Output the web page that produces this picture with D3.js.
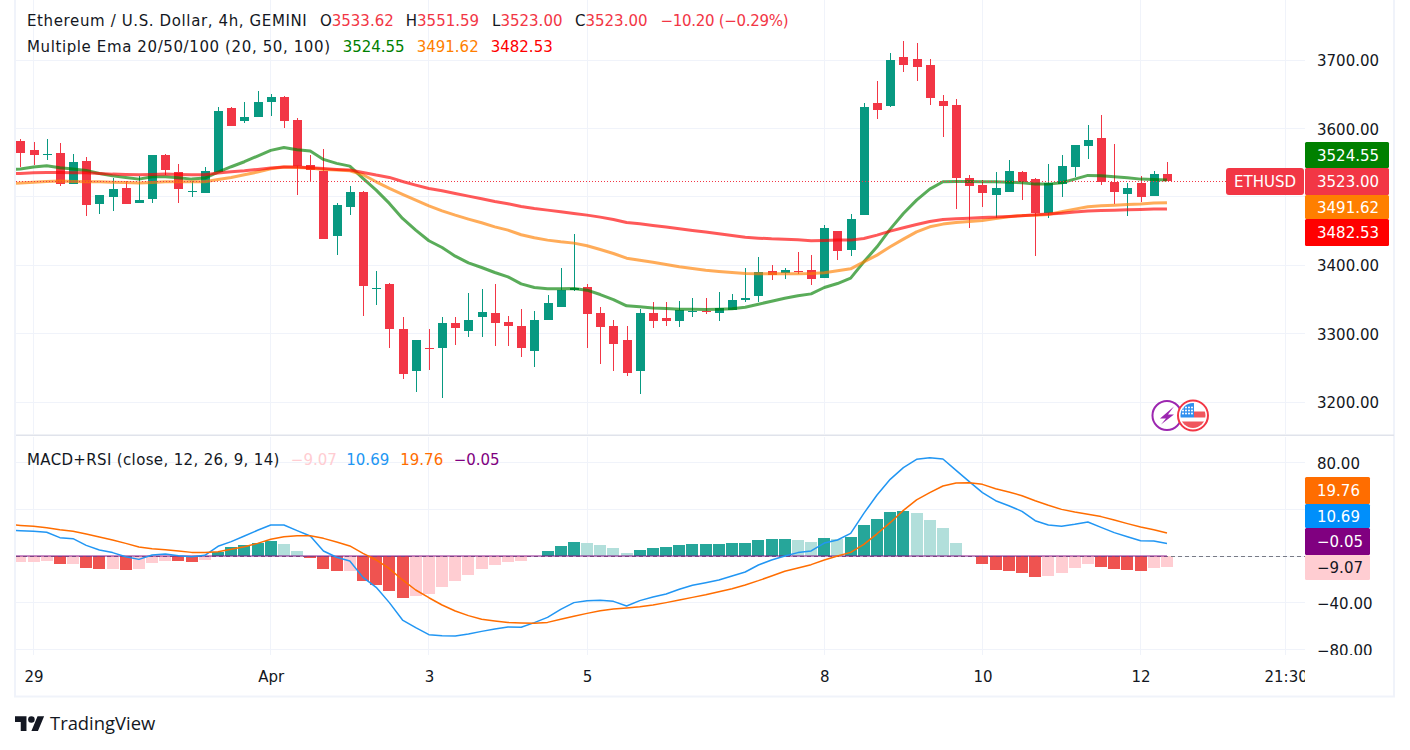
<!DOCTYPE html>
<html>
<head>
<meta charset="utf-8">
<script src="https://cdn.jsdelivr.net/npm/d3@7"></script>
<style>
  html, body { margin: 0; padding: 0; background: #fff; }
  text { font-family: "DejaVu Sans", sans-serif; }
</style>
</head>
<body>
<svg id="chartsvg" width="1410" height="750"></svg>
<script>
// first candle sits one bar before the "29" tick
const firstBar = -1;
const opens = [3581.6,3568.4,3562,3564,3518.7,3552.3,3489.5,3499.7,3513,3491,3496.8,3561,3536.3,3507.5,3505.6,3536.3,3629.8,3610.8,3616.7,3638.6,3645.9,3612.3,3546.5,3537.7,3442.7,3485.1,3507,3366,3372.5,3306.8,3245.4,3279,3279,3315.5,3303.8,3324.3,3330.1,3317,3311.1,3274.6,3320,3338.9,3363.8,3368.1,3330.1,3311.1,3290.7,3245.3,3330.1,3322.8,3318.4,3331.6,3333.1,3330.1,3334.5,3349.1,3355,3391.5,3388.6,3391.5,3393,3381.3,3450,3422.2,3473.4,3637.1,3632.8,3704.4,3701.5,3692.7,3640.1,3634.2,3527.5,3517.3,3502.6,3507,3536.3,3526,3476.3,3518.7,3543.6,3574.3,3586,3521.6,3504.1,3520.2,3501.2,3533.62];
const highs = [3584,3580.1,3584,3578.2,3562.6,3558.2,3502.6,3527.5,3523,3530.4,3561.1,3562.6,3548,3523,3543.6,3631.3,3631.3,3638.6,3654.7,3650.3,3647.4,3615.2,3561.1,3570,3490.5,3515.8,3508.5,3391.5,3374,3324.3,3290.7,3306.8,3324.3,3324.3,3359.4,3365.2,3372.5,3325.8,3336,3333.1,3356.5,3395.9,3445.6,3372.5,3338.9,3320,3311.1,3336,3346.2,3346.2,3347.7,3352.1,3352.1,3360.8,3357.9,3395.9,3412,3400.3,3395.9,3419.3,3415,3458.8,3450,3474.9,3637.1,3669.3,3710.2,3727.8,3724.9,3701.5,3648.8,3643,3531.9,3524.6,3536.3,3553.8,3537.7,3527.5,3548,3561.1,3575.7,3605,3619.6,3577.2,3520.2,3530.4,3537.7,3551.59];
const lows = [3543,3546.5,3553.8,3516.3,3518.7,3472,3475,3479.3,3489.5,3491,3491,3532,3491,3500.2,3505.6,3536.3,3603.5,3608,3616.7,3618.1,3600.6,3502.6,3521.6,3438.3,3415,3473.4,3325.8,3341.8,3279,3233.7,3214.7,3246.8,3206,3283.3,3295,3295.1,3281.9,3281.9,3265.8,3251.2,3320,3338.9,3362.3,3279,3255.6,3245.3,3238,3211.7,3308.2,3311.1,3309.7,3324.3,3328.7,3318.4,3334.5,3346.2,3346.2,3378.4,3379.8,3387.2,3371.1,3381.3,3407.6,3413.5,3473.4,3613.7,3631.3,3682.5,3669.3,3634.2,3587.4,3482.2,3454.4,3485.1,3469,3507,3495.3,3413.5,3469,3499.7,3529,3555.3,3517.3,3489.5,3472,3492.4,3501.2,3523];
const closes = [3564.5,3561.1,3562.5,3518.7,3550.9,3488,3502.6,3511.4,3489.5,3495.3,3561.1,3539.2,3511.4,3508,3537.7,3625.4,3603.5,3616.7,3638.6,3645.9,3610.8,3545,3539.2,3438.3,3488,3507,3369.6,3366.5,3306.8,3241,3290.7,3278.5,3315.5,3308.2,3320,3331.6,3315.5,3311.1,3279,3320,3344.8,3363.8,3366.7,3328.7,3309.7,3284.8,3242.4,3330.1,3318.4,3318.4,3334.5,3333.1,3331.6,3337.4,3349.1,3352.1,3390.1,3385.7,3393,3390.1,3379.8,3454.4,3420.8,3467.6,3631.3,3626.9,3700,3692.7,3689.8,3644.4,3632.8,3527.5,3515.8,3505.6,3512.9,3537.7,3521.6,3476.3,3520.2,3545,3575.7,3583,3521.6,3507,3512.9,3499.7,3533.3,3523];

// indicator lines start one bar earlier so they run off the left edge
const firstLineBar = -2;
const ema20 = [3539.5,3540.7,3543.6,3545.5,3542.6,3540.7,3538.7,3534.3,3530.9,3528.5,3526,3529.4,3529.4,3528,3526,3527.5,3536.3,3544.1,3551.4,3559.7,3568,3572.3,3569,3567,3554.8,3549,3545,3527,3510,3490.5,3468.5,3451.5,3436,3426.1,3413.5,3403.7,3396.9,3389.6,3383.3,3373,3367.7,3365.7,3365.7,3366.2,3363.8,3357.4,3350.1,3340.9,3339.4,3337.9,3337,3336,3336,3335.5,3336,3336.5,3338.9,3343.3,3347.7,3352.1,3355.5,3358.4,3367.7,3373.5,3381.3,3405.2,3427.1,3453,3475.8,3495.3,3511.4,3522.1,3522.6,3522.6,3522.1,3522.1,3521.6,3520.7,3518.7,3518.7,3520.7,3526,3531.4,3530.9,3529.4,3528,3526,3525.5,3524.55];
const ema50 = [3519.5,3520.2,3521.6,3522.6,3523.1,3522.6,3522.1,3522.1,3521.6,3521.2,3520.2,3521.2,3522.1,3522.1,3522.1,3522.1,3525.5,3528.5,3532.4,3536.3,3541.1,3543.6,3543.1,3542.1,3540.2,3539.2,3538.2,3532.4,3522.1,3512.4,3503.6,3495.3,3487,3479.7,3473.4,3467.6,3462.2,3456.3,3451.5,3444.7,3440.3,3436.9,3434.4,3432.5,3428.6,3423.2,3417.4,3410.5,3407.6,3404.7,3401.3,3397.9,3395.4,3393,3391.1,3389.6,3388.1,3387.6,3387.6,3387.6,3387.6,3388.1,3389.1,3392,3395,3405.2,3415,3427.1,3438.3,3449,3456.3,3460.3,3462.7,3464.1,3465.6,3468.5,3471,3472.9,3473.4,3474.4,3478.3,3482.2,3485.6,3487,3488,3489,3489.5,3491,3491.62];
const ema100 = [3534,3534.3,3535.3,3535.8,3535.8,3535.3,3535.3,3534.3,3533.3,3532.9,3532.4,3532.9,3533.3,3532.9,3532.4,3532.4,3534.8,3536.8,3538.2,3540.2,3542.1,3543.6,3543.6,3542.6,3541.6,3540.2,3539.2,3535.8,3531.9,3528.5,3522.6,3517.3,3512.4,3509,3505.1,3501.2,3497.3,3493.4,3490,3486.1,3483.1,3480.7,3478.3,3475.8,3473.4,3470.5,3467.1,3462.7,3460.7,3458.3,3455.9,3453.4,3451,3448.6,3446.1,3443.7,3441.2,3439.8,3438.8,3438.3,3437.3,3435.9,3436.4,3436.9,3436.9,3439.3,3444.2,3450,3454.9,3459.8,3464.1,3467.1,3468,3469,3470,3470.5,3471.5,3472.4,3473.9,3474.9,3476.3,3477.8,3479.3,3480.2,3480.7,3481.2,3481.7,3482.2,3482.53];

const histogram = [-5.1,-5.1,-4.3,-6.8,-6.8,-10.3,-11.1,-11.1,-12,-11.1,-6,-4.3,-4.6,-5.1,-3.4,3.4,7.7,9.4,11.1,12.8,10.3,4.3,-1.7,-11.1,-12.8,-12.8,-21.4,-24.8,-29.9,-35.9,-34.2,-32.5,-26.5,-21.4,-16.3,-11.1,-7.7,-5.1,-4.3,0,4.3,8.6,12,11.1,9.4,6.8,2.6,5.1,6.8,7.7,9.4,10.3,10.3,10.3,11.1,11.1,13.7,14.5,14.5,13.7,12,15.4,14.5,16.3,26.5,31.7,37.6,38.5,36.8,30.8,24,11.1,0,-6.8,-12,-12.8,-14.5,-18,-17.1,-14.5,-10.3,-6.8,-9.4,-11.1,-12,-12.8,-10.3,-9.07];
const macdLine = [22,21.7,21.1,20.3,15.7,14.8,9.1,5.1,2.9,-0.6,-2.9,0.9,1.7,0.3,-0.6,0.6,8.3,12.3,17.1,22,26.5,26.5,21.7,17.1,4.3,-1.1,-4.3,-18.3,-26.8,-39.9,-54.8,-61.3,-67.3,-68.2,-68.5,-66.7,-64.5,-62.5,-60.8,-61,-57,-52.5,-45.6,-39.9,-38.2,-37.9,-38.8,-42.8,-38.2,-35.1,-32.5,-28.5,-25.1,-22.8,-20.5,-17.1,-13.7,-7.7,-3.4,0,2.9,4.3,11.1,13.7,19.4,36.5,52.2,65.6,75.6,82.7,84.1,83,73.3,63.6,54.2,47.3,43,38.2,30.2,26.5,25.4,27.1,29.1,24.5,20,16.5,13.1,12.8,10.69];
const signalLine = [26.9,26.2,25.4,24.2,22.5,21.1,18.8,16.3,13.7,10.8,7.7,6.3,5.4,4.3,3.1,2.9,3.7,5.7,8,10.8,14.3,16.5,17.4,17.4,15.1,12,8.6,2.3,-3.4,-10.8,-20.5,-29.1,-35.7,-41.9,-47.1,-51,-54.2,-55.6,-56.8,-57.3,-57.6,-56.8,-54.2,-51.6,-49.1,-46.8,-45.4,-44.5,-43.4,-41.9,-39.9,-37.7,-35.4,-33.1,-30.5,-28,-24.8,-21.1,-17.1,-13.1,-10.3,-7.4,-3.4,0,3.1,10,19,28.5,39,48,54.2,59.9,62.5,62.7,61.3,57.6,54.8,51.6,47.3,43.4,39.9,37.6,35.7,33.7,30.8,27.7,24.8,22.5,19.76];
const rsiLast = -0.05;

const priceTicks = [3200, 3300, 3400, 3500, 3600, 3700];
const priceLabelTicks = [3200, 3300, 3400, 3600, 3700];
const macdTicks = [-80, -40, 0, 40, 80];
const macdLabelTicks = [-80, -40, 80];
const timeTicks = [0, 18, 30, 42, 60, 72, 84, 95];
const timeLabels = ["29", "Apr", "3", "5", "8", "10", "12", "21:30"];

const upColor = "#089981", downColor = "#f23645";
const gridColor = "#f0f3fa", textColor = "#131722";

const priceLabels = [
    { text: "3524.55", fill: "#008000", h: 26 },
    { text: "3523.00", fill: downColor, h: 27 },
    { text: "3491.62", fill: "#ff7f00", h: 24 },
    { text: "3482.53", fill: "#ff0000", h: 27 }
];
const macdLabels = [
    { text: "19.76", fill: "#ff6d00", color: "#fff", h: 27 },
    { text: "10.69", fill: "#008ffb", color: "#fff", h: 24 },
    { text: "\u22120.05", fill: "#800080", color: "#fff", h: 27 },
    { text: "\u22129.07", fill: "#ffcdd2", color: textColor, h: 25 }
];

const svg = d3.select("#chartsvg");
const paneRight = 1305, paneLeft = 16;
const pricePane = { top: 0, bottom: 434 };
const macdPane = { top: 437, bottom: 655 };

const xScale = d3.scaleLinear().domain([0, 95]).range([33.5, 1285.6]);
const yPrice = d3.scaleLinear().domain([3200, 3700]).range([402.3, 60]);
const yMacd = d3.scaleLinear().domain([-80, 80]).range([649.5, 462.5]);
const fmt = d3.format(".2f");
const fmtMinus = (v) => fmt(v).replace("-", "\u2212");

const defs = svg.append("defs");
const addClip = (id, x, y, w, h) => defs.append("clipPath").attr("id", id)
    .append("rect").attr("x", x).attr("y", y).attr("width", w).attr("height", h);
addClip("clipprice", paneLeft, pricePane.top, paneRight - paneLeft, pricePane.bottom - pricePane.top);
addClip("clipmacd", paneLeft, macdPane.top, paneRight - paneLeft, macdPane.bottom - macdPane.top);
addClip("cliptime", paneLeft, 656, paneRight - paneLeft, 40);
addClip("clipmacdaxis", paneRight, macdPane.top, 90, macdPane.bottom - macdPane.top);

// frame and separator
svg.append("rect").attr("x", 15).attr("y", -2).attr("width", 1379).attr("height", 698.5)
    .attr("fill", "none").attr("stroke", gridColor).attr("stroke-width", 2);
svg.append("rect").attr("x", 16).attr("y", 434.5).attr("width", 1378).attr("height", 1.5).attr("fill", "#e0e3eb");

// grid
const drawGrid = (pane, yScale, ticks) => {
    const g = svg.append("g").attr("shape-rendering", "crispEdges").attr("stroke", gridColor);
    g.selectAll(".v").data(timeTicks).enter().append("line")
        .attr("x1", (d) => xScale(d)).attr("x2", (d) => xScale(d))
        .attr("y1", pane.top).attr("y2", pane.bottom);
    g.selectAll(".h").data(ticks).enter().append("line")
        .attr("x1", paneLeft).attr("x2", paneRight)
        .attr("y1", (d) => yScale(d)).attr("y2", (d) => yScale(d));
};
drawGrid(pricePane, yPrice, priceTicks);
drawGrid(macdPane, yMacd, macdTicks);

// candles
const candles = closes.map((c, i) => ({ bar: firstBar + i, o: opens[i], h: highs[i], l: lows[i], c: c }));
const candleGroup = svg.append("g").attr("clip-path", "url(#clipprice)").attr("shape-rendering", "crispEdges");
candleGroup.selectAll(".wick").data(candles).enter().append("rect")
    .attr("x", (d) => Math.round(xScale(d.bar)))
    .attr("width", 1)
    .attr("y", (d) => yPrice(d.h))
    .attr("height", (d) => yPrice(d.l) - yPrice(d.h))
    .attr("fill", (d) => d.c >= d.o ? upColor : downColor);
candleGroup.selectAll(".body").data(candles).enter().append("rect")
    .attr("x", (d) => Math.round(xScale(d.bar)) - 4)
    .attr("width", 9)
    .attr("y", (d) => yPrice(Math.max(d.o, d.c)))
    .attr("height", (d) => Math.max(1, Math.abs(yPrice(d.o) - yPrice(d.c))))
    .attr("fill", (d) => d.c >= d.o ? upColor : downColor);

// ema lines
const drawLine = (group, values, yScale, color, width, opacity) => {
    const line = d3.line().x((d, i) => xScale(firstLineBar + i)).y((d) => yScale(d));
    group.append("path").datum(values).attr("d", line)
        .attr("fill", "none").attr("stroke", color).attr("stroke-width", width)
        .attr("stroke-opacity", opacity).attr("stroke-linejoin", "round");
};
const emaGroup = svg.append("g").attr("clip-path", "url(#clipprice)");
drawLine(emaGroup, ema20, yPrice, "#008000", 3, 0.65);
drawLine(emaGroup, ema50, yPrice, "#ff7f00", 3, 0.65);
drawLine(emaGroup, ema100, yPrice, "#ff0000", 3, 0.65);

// last price line
svg.append("line").attr("x1", paneLeft).attr("x2", 1226)
    .attr("y1", Math.round(yPrice(closes[closes.length - 1])) + 0.5)
    .attr("y2", Math.round(yPrice(closes[closes.length - 1])) + 0.5)
    .attr("stroke", downColor).attr("stroke-dasharray", "1,2");

// histogram: dark when rising above zero or falling below it
const histColor = (v, i) => {
    const rising = i === 0 || v >= histogram[i - 1];
    if (v >= 0) return rising ? "#26a69a" : "#b2dfdb";
    return rising ? "#ffcdd2" : "#ef5350";
};
const macdGroup = svg.append("g").attr("clip-path", "url(#clipmacd)");
macdGroup.append("g").attr("shape-rendering", "crispEdges").selectAll("rect").data(histogram).enter().append("rect")
    .attr("x", (d, i) => Math.round(xScale(firstBar + i) - 6))
    .attr("width", 12)
    .attr("y", (d) => Math.min(yMacd(d), yMacd(0)))
    .attr("height", (d) => Math.abs(yMacd(d) - yMacd(0)))
    .attr("fill", histColor);
macdGroup.append("line").attr("x1", paneLeft).attr("x2", paneRight)
    .attr("y1", Math.floor(yMacd(0)) + 0.5).attr("y2", Math.floor(yMacd(0)) + 0.5)
    .attr("stroke", "#787b86").attr("stroke-dasharray", "4,3");
macdGroup.append("line").attr("x1", xScale(firstLineBar)).attr("x2", xScale(firstBar + closes.length - 1))
    .attr("y1", yMacd(rsiLast)).attr("y2", yMacd(rsiLast))
    .attr("stroke", "#800080").attr("stroke-width", 1.5).attr("stroke-opacity", 0.6);
drawLine(macdGroup, macdLine, yMacd, "#2196f3", 1.5, 1);
drawLine(macdGroup, signalLine, yMacd, "#ff6d00", 1.5, 1);

// axes
const styleAxis = (g) => {
    g.select(".domain").remove();
    g.selectAll("text").attr("fill", textColor).style("font-size", "15px");
};
const styleYAxis = (g) => {
    styleAxis(g);
    g.selectAll("text").attr("dy", "0.37em");
};
svg.append("g").attr("transform", "translate(" + paneRight + ",0)")
    .call(d3.axisRight(yPrice).tickValues(priceLabelTicks).tickSize(0).tickPadding(12).tickFormat(fmt))
    .call(styleYAxis);
svg.append("g").attr("clip-path", "url(#clipmacdaxis)")
    .append("g").attr("transform", "translate(" + paneRight + ",0)")
    .call(d3.axisRight(yMacd).tickValues(macdLabelTicks).tickSize(0).tickPadding(12).tickFormat(fmtMinus))
    .call(styleYAxis);
svg.append("g").attr("clip-path", "url(#cliptime)")
    .append("g").attr("transform", "translate(0,671)")
    .call(d3.axisBottom(xScale).tickValues(timeTicks).tickSize(0).tickPadding(0)
        .tickFormat((d, i) => timeLabels[i]))
    .call(styleAxis);

// stacked value tags on the axis
const drawTags = (tags, top, width) => {
    let y = top;
    tags.forEach((t) => {
        svg.append("rect").attr("x", paneRight).attr("y", y).attr("width", width).attr("height", t.h)
            .attr("fill", t.fill).attr("rx", 1.5);
        svg.append("text").attr("x", paneRight + 12).attr("y", y + t.h / 2).attr("dy", "0.37em")
            .attr("fill", t.color || "#fff").style("font-size", "15px").text(t.text);
        y += t.h;
    });
};
drawTags(priceLabels, 142, 84);
drawTags(macdLabels, 477, 65);

svg.append("rect").attr("x", 1226).attr("y", 168).attr("width", 78).attr("height", 27)
    .attr("fill", downColor).attr("rx", 3);
svg.append("text").attr("x", 1265).attr("y", 181.5).attr("dy", "0.37em").attr("text-anchor", "middle")
    .attr("fill", "#fff").style("font-size", "15px").text("ETHUSD");

// legends: runs of text laid out by measuring
const drawLegend = (baseline, runs) => {
    const text = svg.append("text").attr("y", baseline).style("font-size", "15px");
    let x = 27;
    runs.forEach((r) => {
        const span = text.append("tspan").attr("x", x).attr("fill", r.color)
            .style("letter-spacing", (r.spacing || 0) + "px").text(r.text);
        x += span.node().getComputedTextLength() + (r.gap || 0);
    });
};
const legendPrice = "#f23645";
drawLegend(26, [
    { text: "Ethereum / U.S. Dollar, 4h, GEMINI", color: textColor, gap: 12.5, spacing: 0.62 },
    { text: "O", color: textColor }, { text: "3533.62", color: legendPrice, gap: 12 },
    { text: "H", color: textColor }, { text: "3551.59", color: legendPrice, gap: 13 },
    { text: "L", color: textColor }, { text: "3523.00", color: legendPrice, gap: 12.5 },
    { text: "C", color: textColor }, { text: "3523.00", color: legendPrice, gap: 13 },
    { text: "\u221210.20 (\u22120.29%)", color: legendPrice, spacing: -0.3 }
]);
drawLegend(52, [
    { text: "Multiple Ema 20/50/100 (20, 50, 100)", color: textColor, gap: 12, spacing: 0.61 },
    { text: "3524.55", color: "#008000", gap: 12 },
    { text: "3491.62", color: "#ff7f00", gap: 12 },
    { text: "3482.53", color: "#ff0000" }
]);
drawLegend(465, [
    { text: "MACD+RSI (close, 12, 26, 9, 14)", color: textColor, gap: 11, spacing: 0.35 },
    { text: "\u22129.07", color: "#ffcdd2", gap: 9.5 },
    { text: "10.69", color: "#2196f3", gap: 11 },
    { text: "19.76", color: "#ff6d00", gap: 10.5 },
    { text: "\u22120.05", color: "#800080" }
]);

// event markers beside the last bar
const markerX = xScale(firstBar + closes.length - 1);
const bolt = svg.append("g").attr("transform", "translate(" + markerX + ",415.5)");
bolt.append("circle").attr("r", 14.5).attr("fill", "#fff").attr("stroke", "#9c27b0").attr("stroke-width", 2);
bolt.append("path").attr("d", "M7,-9 L-7,3 L-1,3 L-6,9 L7,-1 L1,-1 Z").attr("fill", "#9c27b0");
const flag = svg.append("g").attr("transform", "translate(" + (markerX + 26) + ",415.5)");
defs.append("clipPath").attr("id", "clipflag").append("circle").attr("r", 12.5);
flag.append("circle").attr("r", 15).attr("fill", "#fff").attr("stroke", downColor).attr("stroke-width", 2);
const flagInner = flag.append("g").attr("clip-path", "url(#clipflag)");
flagInner.append("rect").attr("x", -13).attr("y", -13).attr("width", 26).attr("height", 26).attr("fill", "#fff");
flagInner.append("rect").attr("x", 1).attr("y", -4).attr("width", 12).attr("height", 6).attr("fill", "#f0565e");
flagInner.append("rect").attr("x", -13).attr("y", 6).attr("width", 26).attr("height", 7).attr("fill", "#f0565e");
flagInner.append("rect").attr("x", -13).attr("y", -13).attr("width", 14).attr("height", 15).attr("fill", "#2f8fee");
flagInner.selectAll(".star").data(d3.range(12)).enter().append("circle")
    .attr("cx", (d) => -10 + (d % 4) * 3).attr("cy", (d) => -8 + Math.floor(d / 4) * 3)
    .attr("r", 1).attr("fill", "#fff");

// TradingView mark
const logo = svg.append("g").attr("transform", "translate(15,713) scale(0.82)").attr("fill", textColor);
logo.append("path").attr("d", "M14 22H7V11H0V4h14v18zM28 22h-8l7.5-18h8L28 22z");
logo.append("circle").attr("cx", 20).attr("cy", 8).attr("r", 4);
svg.append("text").attr("x", 50).attr("y", 730).attr("fill", textColor)
    .style("font-family", "'Open Sans', sans-serif").style("font-size", "18.4px").text("TradingView");
</script>
</body>
</html>
